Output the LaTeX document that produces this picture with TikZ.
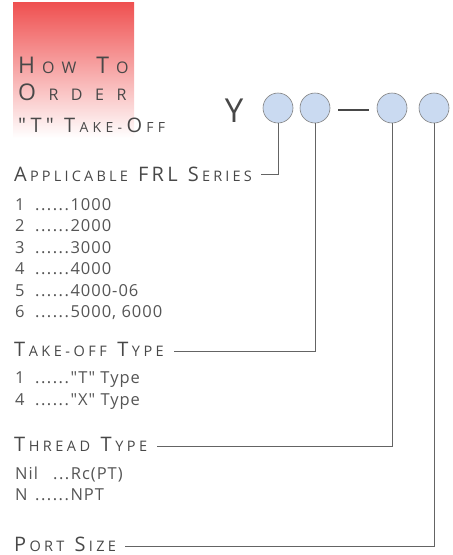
\documentclass[tikz,border=0pt]{standalone}
\usepackage{fontspec}
\setmainfont{Open Sans}[Ligatures=TeXOff]
\usetikzlibrary{positioning, calc}

\definecolor{hdred}{RGB}{239,80,80}
\definecolor{dotblue}{RGB}{202,218,241}
\definecolor{txtgrey}{RGB}{72,72,72}
\definecolor{itmgrey}{RGB}{85,85,85}
\definecolor{lngrey}{RGB}{100,100,100}

% letter spaced small capitals
\ExplSyntaxOn
\NewDocumentCommand \spaced { m m } { \tl_map_inline:nn {#2} { ##1 \kern #1 } }
\ExplSyntaxOff
\newcommand{\capsizes}[3]{\def\capbig{#1}\def\capsmall{#2}\def\capkern{#3}}
\newcommand{\capw}[2]{{\fontsize{\capbig}{\capbig}\selectfont\spaced{\capkern}{#1}}%
  {\fontsize{\capsmall}{\capsmall}\selectfont\spaced{\capkern}{#2}}}
\newcommand{\dotrun}{\spaced{1.5pt}{......}}

\tikzset{
  head/.style={anchor=base west, inner sep=0pt, text=txtgrey},
  label/.style={anchor=base west, inner sep=0pt, text=txtgrey},
  item/.style={anchor=base west, inner sep=0pt, text=itmgrey,
    font=\fontsize{16.5}{16.5}\selectfont\addfontfeature{LetterSpace=6}},
  dot/.style={circle, draw=gray, fill=dotblue, minimum size=30pt, inner sep=0pt, line width=0.6pt},
  lead/.style={draw=lngrey, line width=0.8pt}
}

\begin{document}
\begin{tikzpicture}[x=1pt, y=-1pt]
  \useasboundingbox (0,0) rectangle (453,555);

  % Title box
  \shade[top color=hdred, bottom color=white] (13,2) rectangle (134,138);
  \node[head] (how) at (18,73) {\capsizes{23}{16}{7pt}\capw{H}{OW}\hspace{13pt}\capw{T}{O}};
  \node[head] (order) at (18,100) {\capsizes{23}{16}{12.5pt}\capw{O}{RDER}};
  \node[head] (tee) at (18,132) {\capsizes{20}{14}{4.3pt}\capw{"T"}{}\hspace{6pt}\capw{T}{AKE-}\capw{O}{FF}};

  % Part number
  \node[anchor=base, inner sep=0pt, text=txtgrey, font=\fontsize{33}{33}\selectfont] (y) at (234,122) {Y};
  \node[dot] (c1) at (278,108) {};
  \node[dot] (c2) at (315,108) {};
  \node[dot] (c3) at (392,108) {};
  \node[dot] (c4) at (434,108) {};
  \draw[line width=1.8pt, txtgrey] ($(c2.east)+(8,2)$) coordinate (d1) -- ($(c3.west)+(-8,2)$) coordinate (d2);

  % Applicable FRL series
  \node[label] (frl) at (14,181) {\capsizes{20}{14.5}{3.2pt}\capw{A}{PPLICABLE}\hspace{7pt}\capw{FRL}{}\hspace{7pt}\capw{S}{ERIES}};
  \node[item] (f1) at (15,210) {\makebox[20pt][l]{1}\dotrun1000};
  \node[item] (f2) at (15,231) {\makebox[20pt][l]{2}\dotrun2000};
  \node[item] (f3) at (15,253) {\makebox[20pt][l]{3}\dotrun3000};
  \node[item] (f4) at (15,274) {\makebox[20pt][l]{4}\dotrun4000};
  \node[item] (f5) at (15,296) {\makebox[20pt][l]{5}\dotrun4000-06};
  \node[item] (f6) at (15,317) {\makebox[20pt][l]{6}\dotrun5000, 6000};

  % Take-off type
  \node[label] (tk) at (14,356) {\capsizes{20}{14.5}{3.5pt}\capw{T}{AKE-OFF}\hspace{7pt}\capw{T}{YPE}};
  \node[item] (t1) at (15,383) {\makebox[20pt][l]{1}\dotrun"T" Type};
  \node[item] (t4) at (15,405) {\makebox[20pt][l]{4}\dotrun"X" Type};

  % Thread type
  \node[label] (th) at (14,451) {\capsizes{20}{14.5}{3.5pt}\capw{T}{HREAD}\hspace{7pt}\capw{T}{YPE}};
  \node[item] (n0) at (15,479) {\makebox[38pt][l]{Nil}\spaced{1.5pt}{...}Rc(PT)};
  \node[item] (n1) at (15,500) {\makebox[20pt][l]{N}\dotrun NPT};

  % Port size
  \node[label] (ps) at (14,551) {\capsizes{20}{14.5}{3.3pt}\capw{P}{ORT}\hspace{7pt}\capw{S}{IZE}};

  % Leader lines
  \draw[lead] (c1.south) |- ([xshift=6pt]frl.east |- 0,174);
  \draw[lead] (c2.south) |- ([xshift=6pt]tk.east |- 0,351);
  \draw[lead] (c3.south) |- ([xshift=6pt]th.east |- 0,446);
  \draw[lead] (c4.south) |- ([xshift=6pt]ps.east |- 0,546);
\end{tikzpicture}
\end{document}
